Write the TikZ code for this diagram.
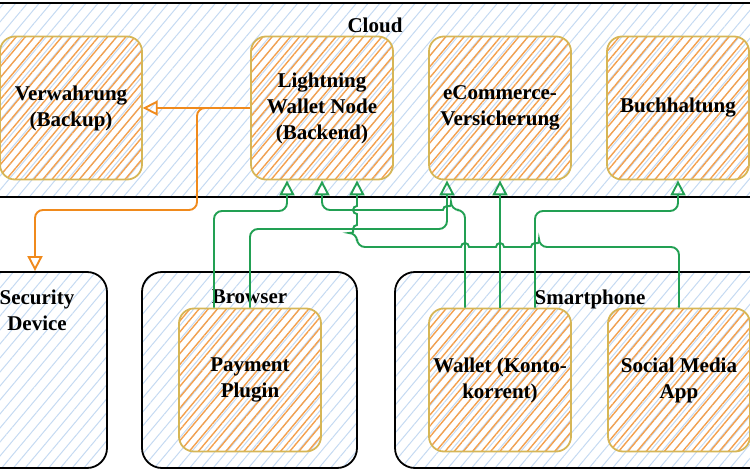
\documentclass[tikz,border=0pt]{standalone}
\usepackage{fontspec}
\setmainfont{Liberation Serif}
\usetikzlibrary{arrows.meta, patterns.meta}
\definecolor{hatchblue}{HTML}{C5DAF2}
\definecolor{hatchorange}{HTML}{F3A04E}
\definecolor{boxline}{HTML}{D6B656}
\definecolor{flowgreen}{HTML}{22A053}
\definecolor{floworange}{HTML}{F08A1C}

\begin{document}
\begin{tikzpicture}[x=1pt, y=1pt, font=\bfseries\fontsize{21}{26}\selectfont,
  flow/.style={draw=flowgreen, line width=1.9pt, -{Triangle[open, length=15pt, width=15pt]}},
  backup/.style={flow, draw=floworange}]
\tikzstyle{group} = [draw=black, line width=1.8pt, rounded corners=20pt, pattern={Lines[angle=50,distance=9pt,line width=1pt]}, pattern color=hatchblue]
\tikzstyle{part} = [draw=boxline, line width=1.8pt, rounded corners=15pt, minimum width=142pt, minimum height=143pt, align=center, pattern={Lines[angle=50,distance=7pt,line width=1.4pt]}, pattern color=hatchorange]
\tikzstyle{title} = [anchor=north, yshift=-15pt, align=center]

\clip (0,0) rectangle (750,-470);

\node[group, rounded corners=0pt, minimum width=800pt, minimum height=194pt, label={[title, yshift=3pt]north:Cloud}] (cloud) at (375,-100) {};
\node[group, minimum width=144pt, minimum height=196pt, label={[title, xshift=2pt]north:Security\\Device}] (secdev) at (35,-370) {};
\node[group, minimum width=215pt, minimum height=196pt, label={[title]north:Browser}] (browser) at (249.5,-370) {};
\node[group, minimum width=390pt, minimum height=196pt, label={[title]north:Smartphone}] (phone) at (590,-370) {};

\node[part] (verw) at (71,-108) {Verwahrung\\(Backup)};
\node[part] (lnd) at (322,-108) {Lightning\\Wallet Node\\(Backend)};
\node[part] (ecom) at (500,-108) {eCommerce-\\Versicherung};
\node[part] (buch) at (678,-108) {Buchhaltung};
\node[part] (plugin) at (250,-380) {Payment\\Plugin};
\node[part] (wallet) at (500,-380) {Wallet (Konto-\\korrent)};
\node[part] (social) at (679,-380) {Social Media\\App};

\draw[backup] (lnd.west) -- (verw.east);
\draw[backup] (lnd.west) [rounded corners=8pt] -| (197,-210) -| (secdev.north);

\draw[flow] ([xshift=-36pt]plugin.north) [rounded corners=8pt] |- (287,-211) -- ([xshift=-35pt]lnd.south);
\draw[flow] (plugin.north) [rounded corners=8pt] |- (447,-229) -- ([xshift=-53pt]ecom.south);
\draw[flow] ([xshift=-35pt]wallet.north) [rounded corners=8pt] |- (451,-210) [sharp corners] arc[start angle=0, end angle=180, radius=4pt] -- (438,-210) [rounded corners=8pt] -| (lnd.south);
\draw[flow] (wallet.north) -- (ecom.south);
\draw[flow] ([xshift=35pt]wallet.north) [rounded corners=8pt] |- (678,-211) -- (buch.south);
\draw[flow] (social.north) [rounded corners=8pt] |- (539,-247) [sharp corners] arc[start angle=0, end angle=180, radius=4pt] -- (504,-247) arc[start angle=0, end angle=180, radius=4pt] -- (469,-247) arc[start angle=0, end angle=180, radius=4pt] -- (455,-247) [rounded corners=8pt] -| (357,-233) [sharp corners] arc[start angle=270, end angle=90, radius=4pt] -- (357,-214) arc[start angle=270, end angle=90, radius=4pt] -- ([xshift=35pt]lnd.south);
\end{tikzpicture}
\end{document}
